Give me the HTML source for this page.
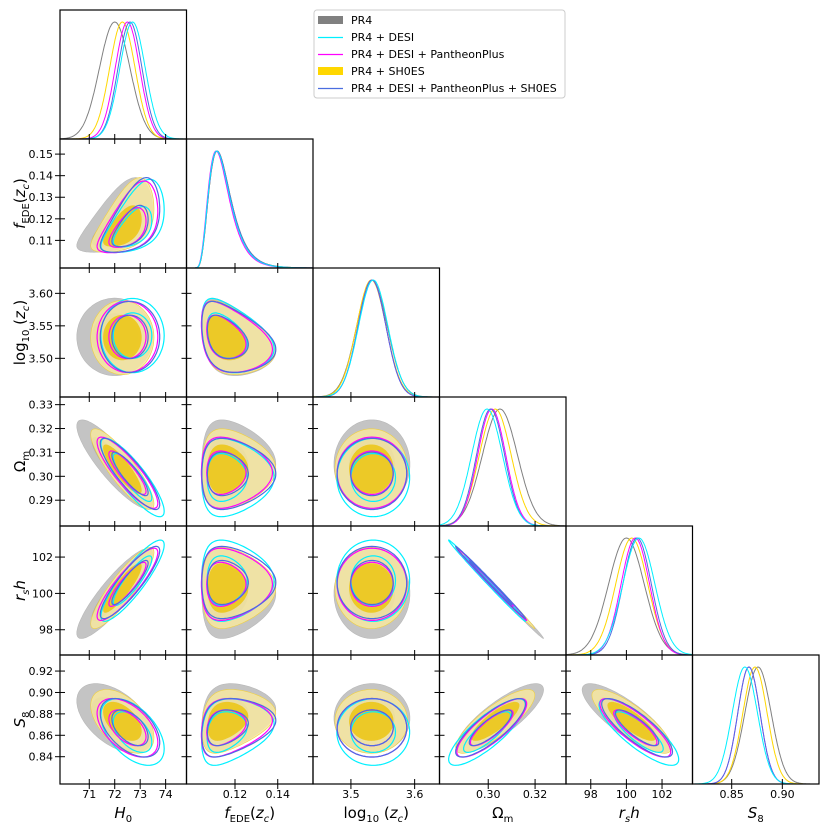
<!DOCTYPE html>
<html><head><meta charset="utf-8"><style>
body{margin:0;background:#fff;}
svg{display:block;font-family:"DejaVu Sans","Liberation Sans",sans-serif;}
</style></head><body>
<svg id="c" width="830" height="835" viewBox="0 0 830 835" xmlns="http://www.w3.org/2000/svg">
<g id="fills"></g><g id="lines"></g><g id="axes"></g>
<g>
<rect x="314" y="10" width="251" height="88" rx="3" fill="#fff" stroke="#ccc" stroke-width="1"/>
<rect x="318" y="16" width="25" height="8" fill="#808080"/>
<line x1="318" y1="37.5" x2="343" y2="37.5" stroke="#00f0ff" stroke-width="1.2"/>
<line x1="318" y1="54.5" x2="343" y2="54.5" stroke="#ff00ff" stroke-width="1.2"/>
<rect x="318" y="67" width="25" height="8" fill="#ffd700"/>
<line x1="318" y1="88.5" x2="343" y2="88.5" stroke="#4a6ee0" stroke-width="1.2"/>
<g font-size="11" fill="#000">
<text x="351" y="24">PR4</text>
<text x="351" y="41">PR4 + DESI</text>
<text x="351" y="58">PR4 + DESI + PantheonPlus</text>
<text x="351" y="75">PR4 + SH0ES</text>
<text x="351" y="92">PR4 + DESI + PantheonPlus + SH0ES</text>
</g></g>
</svg>
<script>
// ---- data ----
const paramNames = ["H0","fEDE","log10zc","Omegam","rsh","S8"];
const datasets = ["PR4","PR4+DESI","PR4+DESI+PantheonPlus","PR4+SH0ES","PR4+DESI+PantheonPlus+SH0ES"];
const meanH0   = [72.0, 72.7, 72.5, 72.3, 72.6];
const meanFede = [0.05, 0.0, -0.05, 0.05, 0.05];
const meanLogz = [3.533, 3.535, 3.533, 3.532, 3.533];
const meanOm   = [0.305, 0.2995, 0.3015, 0.303, 0.301];
const meanRsh  = [100.0, 100.7, 100.5, 100.3, 100.6];
const meanS8   = [0.876, 0.863, 0.867, 0.873, 0.867];
const sigH0   = [0.6, 0.5, 0.48, 0.5, 0.47];
const sigFede = [1, 1, 1, 1, 1];
const sigLogz = [0.024, 0.023, 0.022, 0.023, 0.022];
const sigOm   = [0.0075, 0.0066, 0.006, 0.0068, 0.006];
const sigRsh  = [1.0, 0.9, 0.8, 0.9, 0.8];
const sigS8   = [0.013, 0.0125, 0.011, 0.012, 0.011];
const corrH0   = [1, 0.55, 0.0, -0.86, 0.88, -0.5];
const corrFede = [0.55, 1, -0.35, 0.0, 0.0, 0.25];
const corrLogz = [0.0, -0.35, 1, 0.0, 0.0, 0.0];
const corrOm   = [-0.86, 0.0, 0.0, 1, -0.997, 0.82];
const corrRsh  = [0.88, 0.0, 0.0, -0.997, 1, -0.82];
const corrS8   = [-0.5, 0.25, 0.0, 0.82, -0.82, 1];
const rangeH0=[69.85,74.82], rangeFede=[0.0973,0.1565], rangeLogz=[3.4405,3.639], rangeOm=[0.2792,0.3332], rangeRsh=[96.61,103.71], rangeS8=[0.8113,0.9362];
const rangeFedeY=[0.0972,0.157], rangeS8Y=[0.8145,0.935];
const ticksXH0=[71,72,73,74], ticksXFede=[0.12,0.14], ticksXLogz=[3.5,3.6], ticksXOm=[0.30,0.32], ticksXRsh=[98,100,102], ticksXS8=[0.85,0.90];
const ticksYFede=[0.11,0.12,0.13,0.14,0.15], ticksYLogz=[3.50,3.55,3.60], ticksYOm=[0.29,0.30,0.31,0.32,0.33], ticksYRsh=[98,100,102], ticksYS8=[0.84,0.86,0.88,0.90,0.92];
const labelsXH0=["71","72","73","74"], labelsXFede=["0.12","0.14"], labelsXLogz=["3.5","3.6"], labelsXOm=["0.30","0.32"], labelsXRsh=["98","100","102"], labelsXS8=["0.85","0.90"];
const labelsYFede=["0.11","0.12","0.13","0.14","0.15"], labelsYLogz=["3.50","3.55","3.60"], labelsYOm=["0.29","0.30","0.31","0.32","0.33"], labelsYRsh=["98","100","102"], labelsYS8=["0.84","0.86","0.88","0.90","0.92"];

// ---- layout ----
const X=[60,186.5,313,439.5,566,692.5,819], Y=[10,139,268,397,526,655,784];
const means=[meanH0,meanFede,meanLogz,meanOm,meanRsh,meanS8];
const sigs=[sigH0,sigFede,sigLogz,sigOm,sigRsh,sigS8];
const corr=[corrH0,corrFede,corrLogz,corrOm,corrRsh,corrS8];
const xr=[rangeH0,rangeFede,rangeLogz,rangeOm,rangeRsh,rangeS8];
const yr=[null,rangeFedeY,rangeLogz,rangeOm,rangeRsh,rangeS8Y];
const xt=[ticksXH0,ticksXFede,ticksXLogz,ticksXOm,ticksXRsh,ticksXS8];
const xl=[labelsXH0,labelsXFede,labelsXLogz,labelsXOm,labelsXRsh,labelsXS8];
const yt=[null,ticksYFede,ticksYLogz,ticksYOm,ticksYRsh,ticksYS8];
const yl=[null,labelsYFede,labelsYLogz,labelsYOm,labelsYRsh,labelsYS8];
function fedeMap(u){return 0.099+Math.exp(-4.23+0.4*u);}
function val(p,d,z){const v=means[p][d]+sigs[p][d]*z;return p===1?fedeMap(v):v;}
function sx(p,v){const r=xr[p];return X[p]+(v-r[0])/(r[1]-r[0])*(X[p+1]-X[p]);}
function sy(p,v){const r=yr[p];return Y[p+1]-(v-r[0])/(r[1]-r[0])*(Y[p+1]-Y[p]);}
const NS="http://www.w3.org/2000/svg";
function mk(tag,attrs,parent){const e=document.createElementNS(NS,tag);for(const k in attrs)e.setAttribute(k,attrs[k]);parent.appendChild(e);return e;}
const G=document.getElementById('fills'),L=document.getElementById('lines'),A=document.getElementById('axes');
const lineCol=[null,"#00f0ff","#ff00ff",null,"#4a6ee0"];
const fillCol=[["#c4c4c4","#a9a9a9"],null,null,["#f7e7a0","#ecc61a"],null];
const fillOp=[[1,1],null,null,[0.85,0.9],null];

function ellipse(i,j,d,r){
  const rho=corr[i][j], s=Math.sqrt(1-rho*rho);let pts=[];
  for(let k=0;k<=120;k++){const t=k/120*2*Math.PI;const z1=r*Math.cos(t),z2=r*Math.sin(t);
    pts.push(sx(i,val(i,d,z1)).toFixed(1)+","+sy(j,val(j,d,rho*z1+s*z2)).toFixed(1));}
  return "M"+pts.join("L")+"Z";
}
const R1=Math.sqrt(2.30),R2=Math.sqrt(6.17);
const order=[0,3,1,2,4];
for(let j=1;j<6;j++)for(let i=0;i<j;i++){
  const clip="cl"+i+"_"+j;
  const cp=mk('clipPath',{id:clip},G);mk('rect',{x:X[i],y:Y[j],width:X[i+1]-X[i],height:Y[j+1]-Y[j]},cp);
  const g=mk('g',{'clip-path':'url(#'+clip+')'},G);
  
  
  for(const d of order){
    if(fillCol[d]){
      const o=mk('path',{d:ellipse(i,j,d,R2),fill:fillCol[d][0],'fill-opacity':fillOp[d][0],stroke:d===3?"#f0d040":"#b8b8b8",'stroke-width':0.6},g);
      
      
      const n=mk('path',{d:ellipse(i,j,d,R1),fill:fillCol[d][1],'fill-opacity':fillOp[d][1]},g);
      
      
    } else {
      for(const r of [R2,R1]){
        const l=mk('path',{d:ellipse(i,j,d,r),fill:'none',stroke:lineCol[d],'stroke-width':1.2},g);
        
        
      }
    }
  }
}
const diagCol=["#808080","#00f0ff","#ff00ff","#ffd700","#4a6ee0"];
for(let p=0;p<6;p++){
  const clip="cd"+p;const cp=mk('clipPath',{id:clip},G);mk('rect',{x:X[p],y:Y[p],width:X[p+1]-X[p],height:Y[p+1]-Y[p]},cp);
  const g=mk('g',{'clip-path':'url(#'+clip+')'},L);
  for(const d of [0,3,2,4,1]){
    let pts=[],mx=0;
    for(let k=0;k<=300;k++){const z=-5+10*k/300;const v=val(p,d,z);
      let dens=Math.exp(-z*z/2);
      if(p===1){const dz=1e-3;dens/= (val(p,d,z+dz)-val(p,d,z-dz))/(2*dz);}
      pts.push([v,dens]);if(dens>mx)mx=dens;}
    const h=Y[p+1]-Y[p]-12;
    const dstr="M"+pts.map(q=>sx(p,q[0]).toFixed(1)+","+(Y[p+1]-q[1]/mx*h).toFixed(1)).join("L");
    const l=mk('path',{d:dstr,fill:'none',stroke:diagCol[d],'stroke-width':1},g);
    
    
  }
}
for(let j=0;j<6;j++)for(let i=0;i<=j;i++){
  const fr=mk('rect',{x:X[i],y:Y[j],width:X[i+1]-X[i],height:Y[j+1]-Y[j],fill:'none',stroke:'#000','stroke-width':1.2},A);
  
  
  xt[i].forEach((t,k)=>{const x=sx(i,t);mk('line',{x1:x,x2:x,y1:Y[j+1]-5,y2:Y[j+1]+5,stroke:'#000','stroke-width':1},A);
    if(j===5){const tx=mk('text',{x:x,y:Y[6]+14,'font-size':11,'text-anchor':'middle'},A);tx.textContent=xl[i][k];
      
      }});
  if(i<j){yt[j].forEach((t,k)=>{const y=sy(j,t);mk('line',{x1:X[i]-5,x2:X[i]+5,y1:y,y2:y,stroke:'#000','stroke-width':1},A);
    if(i===0){const tx=mk('text',{x:X[0]-7,y:y+4,'font-size':11,'text-anchor':'end'},A);tx.textContent=yl[j][k];
      
      }});}
}
const xTitles=['<tspan font-style="italic">H</tspan><tspan font-size="10" dy="4">0</tspan>',
'<tspan font-style="italic">f</tspan><tspan font-size="10" dy="4">EDE</tspan><tspan dy="-4">(</tspan><tspan font-style="italic">z</tspan><tspan font-size="10" font-style="italic" dy="4">c</tspan><tspan dy="-4">)</tspan>',
'log<tspan font-size="10" dy="4">10</tspan><tspan dy="-4"> (</tspan><tspan font-style="italic">z</tspan><tspan font-size="10" font-style="italic" dy="4">c</tspan><tspan dy="-4">)</tspan>',
'Ω<tspan font-size="10" dy="4">m</tspan>',
'<tspan font-style="italic">r</tspan><tspan font-size="10" font-style="italic" dy="4">s</tspan><tspan font-style="italic" dy="-4">h</tspan>',
'<tspan font-style="italic">S</tspan><tspan font-size="10" dy="4">8</tspan>'];
const xNames=['x-axis-title-h0','x-axis-title-fede','x-axis-title-log10zc','x-axis-title-omegam','x-axis-title-rsh','x-axis-title-s8'];
for(let i=0;i<6;i++){const t=mk('text',{x:(X[i]+X[i+1])/2,y:818,'font-size':15,'text-anchor':'middle'},A);t.innerHTML=xTitles[i];
  
  }
for(let j=1;j<6;j++){const cy=(Y[j]+Y[j+1])/2;const t=mk('text',{x:0,y:0,'font-size':15,'text-anchor':'middle',transform:'translate(25,'+cy+') rotate(-90)'},A);t.innerHTML=xTitles[j];
  
  }
</script>
</body></html>
